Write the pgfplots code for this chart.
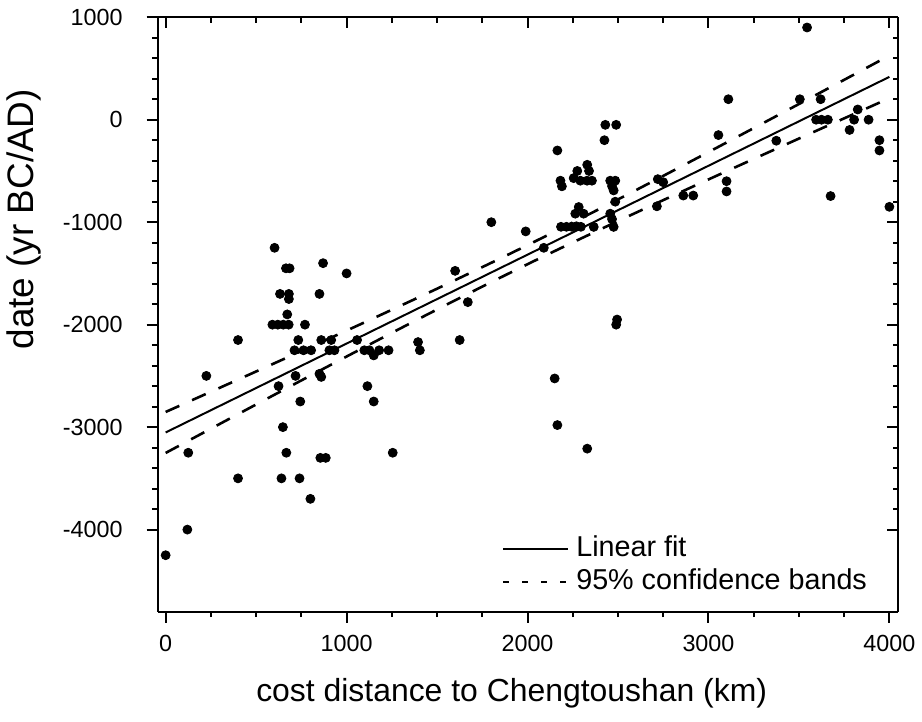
\documentclass[border=0pt]{standalone}
\usepackage{pgfplots}
\pgfplotsset{compat=1.18}
\usepackage{fontspec}
\setmainfont{Liberation Sans}
\pgfplotstableread{
x y
0 -4250
120 -4000
125 -3250
225 -2500
400 -2150
400 -3500
602 -1250
665 -1450
685 -1450
632 -1700
681 -1700
681 -1750
850 -1700
870 -1400
1000 -1500
672 -1900
590 -2000
620 -2000
650 -2000
680 -2000
770 -2000
733 -2150
860 -2150
915 -2150
712 -2250
762 -2250
804 -2250
905 -2250
933 -2250
1058 -2150
1098 -2250
1126 -2250
1180 -2250
1232 -2250
1150 -2300
718 -2500
850 -2480
860 -2510
624 -2600
1115 -2600
744 -2750
1150 -2750
648 -3000
667 -3250
855 -3300
885 -3300
1255 -3250
640 -3500
740 -3500
800 -3700
1800 -1000
1990 -1090
1600 -1475
1670 -1780
2090 -1250
1395 -2170
1405 -2250
1625 -2150
2150 -2525
2165 -2980
2330 -3210
2495 -1950
2490 -2000
2430 -50
2490 -50
2425 -200
2165 -300
2275 -500
2330 -440
2340 -500
2182 -595
2190 -650
2255 -570
2292 -595
2329 -595
2356 -595
2457 -595
2485 -595
2467 -648
2476 -690
2485 -800
2283 -852
2264 -917
2310 -917
2457 -917
2467 -970
2476 -1046
2366 -1046
2185 -1045
2215 -1045
2245 -1045
2270 -1040
2295 -1045
2715 -845
2720 -580
2750 -610
3055 -150
2861 -740
2916 -740
3545 900
3110 200
3505 200
3620 200
3595 0
3625 0
3660 0
3825 100
3805 0
3885 0
3780 -100
3945 -200
3945 -300
3375 -205
3100 -600
3100 -700
3675 -745
4000 -850
}\pts
\pgfplotstableread{
x up lo
0 -2852 -3252
500 -2457 -2779
1000 -2058 -2311
1500 -1649 -1852
2000 -1224 -1410
2500 -778 -989
3000 -316 -583
3500 153 -184
4000 626 210
}\bands
\pgfplotsset{
  common/.style={
    scale only axis, width=371.5pt, height=298pt,
    xmin=-45, xmax=4050, ymin=-4800, ymax=1000,
    xtick={0,1000,2000,3000,4000},
    ytick={-4000,-3000,-2000,-1000,0,1000},
    minor x tick num=3, minor y tick num=4,
    major tick length=5.5pt, minor tick length=2.8pt,
    major tick style={black, line width=1pt},
    minor tick style={black, line width=0.9pt},
    axis line style={-, black, line width=1pt},
  }
}
\begin{document}
\begin{tikzpicture}[font=\fontsize{11.7pt}{14pt}\selectfont]
\begin{axis}[common, name=ax,
  axis x line*=bottom, axis y line*=left, tick align=outside,
  xticklabels={0,1000,2000,3000,4000},
  yticklabels={-4000,-3000,-2000,-1000,0,1000},
  xticklabel shift=3pt,
  yticklabel shift=8.5pt,
  every axis x label/.style={at={(axis description cs:0.478,-0.1505)}, anchor=base, font=\fontsize{16pt}{19pt}\selectfont},
  every axis y label/.style={at={(axis description cs:-0.1804,0.66)}, rotate=90, anchor=center, font=\fontsize{18.5pt}{21pt}\selectfont},
  xlabel={cost distance to Chengtoushan (km)},
  ylabel={date (yr BC/AD)},
  legend style={at={(axis description cs:0.4643,0.133)}, anchor=north west,
    draw=none, fill=none, inner sep=0pt, column sep=2.5pt,
    font=\fontsize{14.4}{17}\selectfont,
    nodes={text height=11pt, text depth=3pt, inner sep=1pt}, row sep=0.5pt},
  legend cell align=left,
]
\addplot[only marks, mark=*, mark size=2.25pt, black, forget plot] table[x=x,y=y] {\pts};
\addplot[black, line width=1pt, legend image code/.code={\draw[black, line width=1pt] (0pt,0pt)--(32.5pt,0pt);}] coordinates {(0,-3052) (4000,418)};
\addlegendentry{Linear fit}
\addplot[black, line width=1.3pt, dash pattern=on 7.5pt off 7pt, smooth,
  legend image code/.code={\draw[black, line width=1.3pt, dash pattern=on 3pt off 6.5pt] (0pt,0pt)--(32.5pt,0pt);}] table[x=x,y=up] {\bands};
\addlegendentry{95\% confidence bands}
\addplot[black, line width=1.3pt, dash pattern=on 7.5pt off 7pt, smooth, forget plot] table[x=x,y=lo] {\bands};
\end{axis}
\begin{axis}[common,
  axis x line*=top, axis y line*=right, tick align=inside,
  xticklabels={}, yticklabels={},
]
\end{axis}
\path[use as bounding box] ([xshift=-78pt,yshift=-55.35pt]ax.south west) rectangle ([xshift=11.5pt,yshift=8.65pt]ax.north east);
\end{tikzpicture}
\end{document}
